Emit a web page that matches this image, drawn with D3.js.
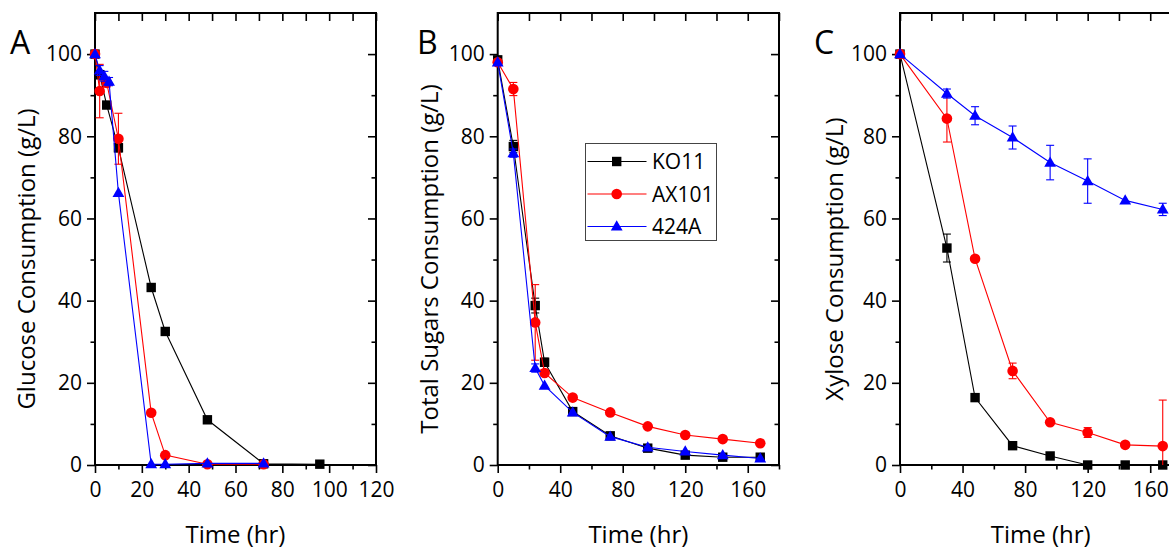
<!DOCTYPE html>
<html><head><meta charset="utf-8">
<script src="https://cdn.jsdelivr.net/npm/d3@7"></script>
<style>
body{margin:0;background:#fff;overflow:hidden}
text{font-family:"Open Sans",sans-serif;fill:#000}
</style>
</head><body>
<svg id="chart" width="1169" height="551"></svg>
<script>
// ---------- DATA ----------
const seriesNames = ["KO11", "AX101", "424A"];

// Panel A: Glucose
const glucoseTimeKO11 = [0, 2, 5, 10, 24, 30, 48, 72, 96];
const glucoseKO11     = [100, 95, 87.6, 77.2, 43.2, 32.5, 11.0, 0.3, 0.2];
const glucoseErrKO11  = [0, 1, 0.6, 1, 0.6, 0.6, 0.6, 0, 0];
const glucoseTimeAX101 = [0, 2, 5, 10, 24, 30, 48, 72];
const glucoseAX101     = [100, 91.0, 93.0, 79.4, 12.7, 2.4, 0.2, 0.2];
const glucoseErrAX101  = [0, 6.5, 1, 6.2, 0.5, 0.5, 0, 0];
const glucoseTime424A = [0, 2, 4, 6, 10, 24, 30, 48, 72];
const glucose424A     = [100, 96, 94.6, 93.3, 66.2, 0.2, 0.2, 0.4, 0.4];
const glucoseErr424A  = [0, 1.2, 1.2, 1, 0.5, 0, 0, 0, 0];

// Panel B: Total sugars
const sugarsTime = [0, 10, 24, 30, 48, 72, 96, 120, 144, 168];
const sugarsKO11  = [98.6, 77.5, 38.8, 25.0, 13.0, 7.1, 4.1, 2.4, 1.9, 1.9];
const sugarsErrKO11  = [0.5, 1.5, 1.8, 1, 0.5, 0.8, 0.8, 0.5, 0.8, 0.5];
const sugarsAX101 = [98.0, 91.5, 34.7, 22.4, 16.4, 12.8, 9.4, 7.3, 6.3, 5.3];
const sugarsErrAX101 = [0.5, 1.6, 9.2, 0.8, 0.5, 0.5, 0.5, 0.5, 0.5, 0.5];
const sugars424A  = [98.0, 75.9, 23.6, 19.3, 12.8, 6.9, 4.3, 3.3, 2.4, 1.6];
const sugarsErr424A  = [0.5, 1, 1, 0.5, 0.5, 0.5, 0.5, 0.5, 0.5, 0.5];

// Panel C: Xylose
const xyloseTime = [0, 30, 48, 72, 96, 120, 144, 168];
const xyloseKO11  = [100, 52.8, 16.4, 4.7, 2.2, 0, 0, 0];
const xyloseErrKO11  = [0, 3.4, 0.5, 0.5, 0.5, 0, 0, 0];
const xyloseAX101 = [100, 84.3, 50.2, 22.9, 10.4, 7.9, 4.9, 4.6];
const xyloseErrAX101 = [0, 5.7, 0.5, 1.9, 0.5, 1.2, 0.5, 11.2];
const xylose424A  = [100, 90.4, 85.0, 79.7, 73.6, 69.1, 64.4, 62.2];
const xyloseErr424A  = [0, 1.1, 2.2, 2.8, 4.2, 5.4, 0.5, 1.5];

// Tick labels
const yTickValues = [0, 20, 40, 60, 80, 100];
const xTickValuesA = [0, 20, 40, 60, 80, 100, 120];
const xTickValuesBC = [0, 40, 80, 120, 160];

const panelLetters = ["A", "B", "C"];
const yTitles = ["Glucose Consumption (g/L)", "Total Sugars Consumption (g/L)", "Xylose Consumption (g/L)"];
const xTitle = "Time (hr)";

// ---------- STYLE ----------
const colors = ["#000000", "#ff0000", "#0000ff"];
const shapes = ["square", "circle", "triangle"];

function zip(t, v, e) { return t.map((d, i) => ({t: d, v: v[i], e: e[i]})); }

const panels = [
  { left: 95, right: 376, xMax: 120, xTicks: xTickValuesA, minorStep: 10, titleX: 35, letterX: 10,
    series: [zip(glucoseTimeKO11, glucoseKO11, glucoseErrKO11),
             zip(glucoseTimeAX101, glucoseAX101, glucoseErrAX101),
             zip(glucoseTime424A, glucose424A, glucoseErr424A)] },
  { left: 497.7, right: 779, xMax: 180, xTicks: xTickValuesBC, minorStep: 20, titleX: 438, letterX: 417,
    series: [zip(sugarsTime, sugarsKO11, sugarsErrKO11),
             zip(sugarsTime, sugarsAX101, sugarsErrAX101),
             zip(sugarsTime, sugars424A, sugarsErr424A)] },
  { left: 900, right: 1181.5, xMax: 180, xTicks: xTickValuesBC, minorStep: 20, titleX: 843, letterX: 814,
    series: [zip(xyloseTime, xyloseKO11, xyloseErrKO11),
             zip(xyloseTime, xyloseAX101, xyloseErrAX101),
             zip(xyloseTime, xylose424A, xyloseErr424A)] }
];

const TOP = 13, BOTTOM = 465;
const svg = d3.select("#chart");

function drawMarker(g, shape, color, cx, cy) {
  if (shape === "square") {
    g.append("rect").attr("x", cx - 4.7).attr("y", cy - 4.7).attr("width", 9.4).attr("height", 9.4).attr("fill", color);
  } else if (shape === "circle") {
    g.append("circle").attr("cx", cx).attr("cy", cy).attr("r", 5.3).attr("fill", color);
  } else {
    const s = 11.8, h = s * 0.866;
    g.append("path").attr("d", `M${cx},${cy - h * 0.6}L${cx + s / 2},${cy + h * 0.4}L${cx - s / 2},${cy + h * 0.4}Z`).attr("fill", color);
  }
}

panels.forEach((p, pi) => {
  const x = d3.scaleLinear().domain([0, p.xMax]).range([p.left, p.right]);
  const y = d3.scaleLinear().domain([0, 110]).range([BOTTOM, TOP]);
  const g = svg.append("g");

  const minorX = d3.range(0, p.xMax + 0.001, p.minorStep).filter(v => !p.xTicks.includes(v));
  const majorXAll = d3.range(0, p.xMax + 0.001, p.minorStep * 2);
  const minorY = [10, 30, 50, 70, 90];

  const styleTicks = sel => { sel.select(".domain").remove(); sel.selectAll("line").attr("stroke", "#000").attr("stroke-width", 1.6); };

  // bottom axis (outward)
  g.append("g").attr("transform", `translate(0,${BOTTOM})`)
    .call(d3.axisBottom(x).tickValues(p.xTicks).tickSize(8).tickPadding(9).tickFormat(d3.format("d")))
    .call(styleTicks)
    .call(a => a.selectAll("text").attr("font-size", 21).attr("font-family", "Open Sans"));
  g.append("g").attr("transform", `translate(0,${BOTTOM})`)
    .call(d3.axisBottom(x).tickValues(minorX).tickSize(4.5).tickFormat(""))
    .call(styleTicks);
  // top axis (inward)
  g.append("g").attr("transform", `translate(0,${TOP})`)
    .call(d3.axisTop(x).tickValues(majorXAll).tickSize(-8).tickFormat(""))
    .call(styleTicks);
  g.append("g").attr("transform", `translate(0,${TOP})`)
    .call(d3.axisTop(x).tickValues(minorX).tickSize(-8).tickFormat(""))
    .call(styleTicks);
  // left axis (outward)
  g.append("g").attr("transform", `translate(${p.left},0)`)
    .call(d3.axisLeft(y).tickValues(yTickValues).tickSize(8).tickPadding(5).tickFormat(d3.format("d")))
    .call(styleTicks)
    .call(a => a.selectAll("text").attr("font-size", 21).attr("font-family", "Open Sans"));
  g.append("g").attr("transform", `translate(${p.left},0)`)
    .call(d3.axisLeft(y).tickValues(minorY).tickSize(4.5).tickFormat(""))
    .call(styleTicks);
  // right axis (inward)
  g.append("g").attr("transform", `translate(${p.right},0)`)
    .call(d3.axisRight(y).tickValues(yTickValues).tickSize(-8).tickFormat(""))
    .call(styleTicks);
  g.append("g").attr("transform", `translate(${p.right},0)`)
    .call(d3.axisRight(y).tickValues(minorY).tickSize(-4.5).tickFormat(""))
    .call(styleTicks);

  // frame
  g.append("rect").attr("x", p.left).attr("y", TOP).attr("width", p.right - p.left).attr("height", BOTTOM - TOP)
    .attr("fill", "none").attr("stroke", "#000").attr("stroke-width", 2);

  // series
  const line = d3.line().x(d => x(d.t)).y(d => y(d.v));
  p.series.forEach((data, si) => {
    const c = colors[si];
    const sg = g.append("g");
    sg.append("path").datum(data).attr("d", line).attr("fill", "none").attr("stroke", c).attr("stroke-width", 1.1);
    data.filter(d => d.e > 0.6).forEach(d => {
      const y1 = y(Math.min(110, d.v + d.e)), y0 = y(Math.max(0, d.v - d.e));
      const cx = x(d.t);
      sg.append("line").attr("x1", cx).attr("x2", cx).attr("y1", y1).attr("y2", y0).attr("stroke", c).attr("stroke-width", 1.1);
      sg.append("line").attr("x1", cx - 4).attr("x2", cx + 4).attr("y1", y1).attr("y2", y1).attr("stroke", c).attr("stroke-width", 1.1);
      if (d.v - d.e > 0) sg.append("line").attr("x1", cx - 4).attr("x2", cx + 4).attr("y1", y0).attr("y2", y0).attr("stroke", c).attr("stroke-width", 1.1);
    });
    data.forEach(d => drawMarker(sg, shapes[si], c, x(d.t), y(d.v)));
  });

  // titles
  svg.append("text").attr("x", (p.left + p.right) / 2).attr("y", 543).attr("text-anchor", "middle")
    .attr("font-size", 24).text(xTitle);
  svg.append("text").attr("transform", `translate(${p.titleX},259) rotate(-90)`)
    .attr("text-anchor", "middle").attr("font-size", 24).text(yTitles[pi]);
  svg.append("text").attr("x", p.letterX).attr("y", 53.5).attr("font-size", 32).text(panelLetters[pi]);
});

// legend in panel B
const lg = svg.append("g");
lg.append("rect").attr("x", 585.5).attr("y", 143.5).attr("width", 131).attr("height", 97)
  .attr("fill", "#fff").attr("stroke", "#444").attr("stroke-width", 1);
const legendY = [161.5, 194, 226.5];
seriesNames.forEach((name, i) => {
  lg.append("line").attr("x1", 587.5).attr("x2", 646.5).attr("y1", legendY[i]).attr("y2", legendY[i])
    .attr("stroke", colors[i]).attr("stroke-width", 1.1);
  drawMarker(lg, shapes[i], colors[i], 616.7, legendY[i]);
  lg.append("text").attr("x", 652).attr("y", legendY[i] + 7.5).attr("font-size", 21).text(name);
});
</script>
</body></html>
